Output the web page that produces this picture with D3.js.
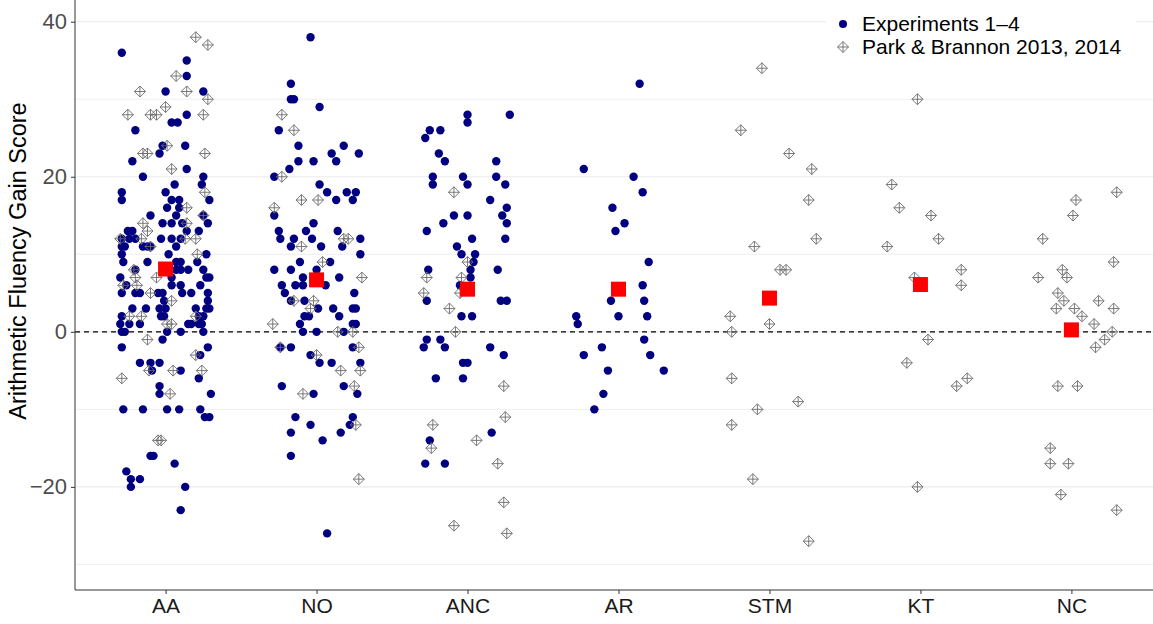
<!DOCTYPE html>
<html>
<head>
<meta charset="utf-8">
<script src="https://cdn.jsdelivr.net/npm/d3@7"></script>
<style>
  body { margin: 0; background: #fff; }
  svg { display: block; font-family: "Liberation Sans", Arial, sans-serif; }
</style>
</head>
<body>
<div id="chart"></div>
<script>
// categories and group means
const categories = ["AA", "NO", "ANC", "AR", "STM", "KT", "NC"];
const means = [8.1, 6.7, 5.5, 5.5, 4.35, 6.1, 0.25];
const yTicks = [-20, 0, 20, 40];
const yMinor = [-30, -10, 10, 30];

// individual scores: [jitter (category units), gain score]
// Experiments 1-4
const expAA = [[-0.29,36],[0.14,35],[0.14,33],[0,31],[0.25,31],[0.14,28],[0.04,27],[0.08,27],[-0.2,26],[-0.02,24],[0.13,24],[-0.04,23],[-0.22,22],[0.14,21],[-0.15,20],[0.25,20],[0.06,19],[0.24,19],[-0.29,18],[0,18],[-0.29,17],[0.04,17],[0.09,17],[0.29,17],[0.01,16],[0.09,16],[-0.1,15],[0.07,15],[0.25,15],[-0.02,14],[0.04,14],[0.11,14],[0.28,14],[-0.25,13],[-0.22,13],[0.14,13],[0.22,13],[-0.29,12],[-0.24,12],[-0.2,12],[-0.03,12],[0.04,12],[0.1,12],[-0.29,11],[-0.27,11],[-0.15,11],[-0.12,11],[-0.1,11],[0.07,11],[0.02,10],[-0.29,10],[0.27,10],[-0.28,9],[-0.12,9],[0.07,9],[0.1,9],[0.21,9],[-0.2,8],[0.07,8],[0.1,8],[0.15,8],[0.25,8],[-0.3,7],[0.04,7],[0.27,7],[0.29,7],[-0.26,6],[0.04,6],[0.1,6],[0.23,6],[-0.29,5],[-0.2,5],[-0.17,5],[-0.05,5],[-0.02,5],[0.11,5],[0.17,5],[0.28,5],[-0.01,4],[0.28,4],[-0.22,3],[-0.13,3],[-0.04,3],[0,3],[0.2,3],[0.27,3],[0.29,3],[-0.29,2],[-0.03,2],[-0.01,2],[0.22,2],[0.25,2],[-0.3,1],[-0.24,1],[-0.17,1],[0.15,1],[0.17,1],[0.22,1],[0.24,1],[-0.29,0],[-0.27,0],[0.01,0],[0.1,0],[0.25,0],[-0.02,-1],[-0.29,-2],[0.28,-2],[0.23,-3],[-0.17,-4],[-0.1,-4],[-0.04,-4],[-0.09,-5],[0.1,-5],[0.22,-6],[-0.04,-7],[-0.04,-8],[0.3,-8],[-0.28,-10],[-0.15,-10],[0.01,-10],[0.09,-10],[0.23,-10],[0.26,-11],[0.29,-11],[-0.1,-16],[-0.08,-16],[0.06,-17],[-0.26,-18],[-0.23,-19],[-0.17,-19],[-0.23,-20],[0.13,-20],[0.1,-23]];
const expNO = [[-0.04,38],[-0.17,32],[-0.17,30],[-0.15,30],[0.02,29],[-0.25,26],[-0.12,24],[0.18,24],[0.1,23],[0.28,23],[-0.12,22],[-0.02,22],[0.13,22],[-0.18,21],[-0.28,20],[0.02,19],[0.07,18],[0.2,18],[0.26,18],[0.13,17],[0.24,17],[-0.28,15],[-0.02,14],[-0.25,13],[-0.07,13],[0.14,13],[-0.24,12],[-0.15,12],[-0.03,12],[0.29,12],[-0.17,11],[0.03,11],[0.17,11],[0.29,10],[-0.11,9],[0.09,9],[-0.28,8],[-0.17,8],[0,8],[-0.09,7],[0.15,7],[-0.23,6],[-0.14,6],[-0.09,6],[0.06,6],[-0.21,5],[0.25,5],[-0.17,4],[-0.08,4],[0.24,3],[0.26,3],[0.01,3],[0.11,3],[0.15,2],[-0.08,2],[-0.05,2],[-0.11,1],[0.24,1],[0.26,1],[-0.09,0],[0,0],[0.18,0],[-0.24,-2],[-0.17,-2],[0.24,-2],[-0.04,-3],[0.02,-4],[0.1,-4],[0.29,-4],[-0.23,-7],[0.18,-7],[-0.02,-8],[0.27,-8],[-0.14,-11],[0.24,-11],[-0.04,-12],[0.22,-12],[-0.17,-13],[0.16,-13],[0.04,-14],[-0.17,-16],[0.07,-26]];
const expANC = [[0,28],[0,27],[0.28,28],[-0.25,26],[-0.18,26],[-0.28,25],[-0.19,23],[-0.15,22],[0.19,22],[-0.23,20],[-0.03,20],[0.19,20],[-0.23,19],[0,19],[0.25,19],[0.15,17],[0.26,16],[-0.09,15],[0,15],[0.23,15],[-0.16,14],[0.26,14],[-0.27,13],[0.03,12],[0.25,12],[-0.07,11],[-0.04,10],[0.05,10],[0.04,9],[-0.26,8],[0.02,8],[0.2,8],[0.02,7],[-0.05,6],[-0.27,4],[0.22,4],[0.26,4],[-0.04,2],[0.03,2],[-0.27,-1],[-0.18,-1],[-0.29,-2],[-0.15,-2],[0.15,-2],[0.24,-3],[-0.03,-4],[0,-4],[-0.21,-6],[-0.03,-6],[0.16,-13],[-0.25,-14],[-0.28,-17],[-0.15,-17]];
const expAR = [[0.14,32],[-0.23,21],[0.1,20],[0.16,18],[-0.04,16],[0.04,14],[-0.02,13],[0.2,9],[0.16,6],[-0.05,4],[0.17,4],[-0.28,2],[0,2],[0.19,2],[-0.27,1],[0.17,-1],[-0.11,-2],[-0.23,-3],[0.21,-3],[-0.07,-5],[0.3,-5],[-0.1,-8],[-0.16,-10]];

// Park & Brannon 2013, 2014
const pbAA = [[0.2,38],[0.28,37],[0.07,33],[-0.17,31],[0.14,31],[0,29],[0.28,30],[-0.25,28],[-0.1,28],[-0.06,28],[0.25,28],[0.01,24],[-0.15,23],[-0.12,23],[0.26,23],[0.04,21],[0.26,18],[0.14,16],[-0.15,14],[-0.12,13],[0.14,14],[0.25,15],[-0.3,12],[-0.16,12],[0.13,12],[0.2,12],[-0.1,11],[0.21,10],[-0.21,8],[-0.06,7],[-0.2,7],[-0.19,6],[-0.28,6],[-0.1,5],[0.04,4],[-0.24,2],[-0.16,2],[0.2,2],[0.01,1],[0.04,1],[-0.12,-1],[0.2,-3],[-0.29,-6],[-0.11,-5],[0.05,-5],[0.24,-5],[0.03,-8],[-0.05,-14],[-0.03,-14]];
const pbNO = [[-0.23,28],[-0.15,26],[-0.23,20],[-0.1,17],[0.01,17],[-0.28,16],[0.18,12],[0.21,12],[-0.1,11],[0.04,9],[0.3,7],[-0.15,4],[-0.02,4],[-0.04,3],[-0.29,1],[0.14,0],[0.24,0],[-0.24,-2],[0.28,-2],[0,-3],[0.16,-5],[0.29,-5],[0.25,-7],[-0.09,-8],[0.26,-12],[0.28,-19]];
const pbANC = [[-0.09,18],[0,9],[-0.27,7],[-0.04,7],[-0.29,5],[-0.05,5],[-0.12,3],[-0.08,0],[0.24,-7],[0.25,-11],[-0.23,-12],[0.06,-14],[-0.24,-15],[0.2,-17],[0.24,-22],[-0.09,-25],[0.26,-26]];
const pbSTM = [[-0.05,34],[-0.19,26],[0.13,23],[0.28,21],[0.26,17],[-0.1,11],[0.31,12],[0.07,8],[0.11,8],[-0.26,2],[0,1],[-0.25,0],[-0.25,-6],[0.19,-9],[-0.08,-10],[-0.25,-12],[-0.11,-19],[0.26,-27]];
const pbKT = [[-0.02,30],[-0.19,19],[-0.14,16],[0.07,15],[0.12,12],[-0.22,11],[0.27,8],[-0.04,7],[0.27,6],[0.05,-1],[-0.09,-4],[0.31,-6],[0.24,-7],[-0.02,-20]];
const pbNC = [[0.3,18],[0.03,17],[0.01,15],[-0.19,12],[0.28,9],[-0.06,8],[-0.03,7],[-0.22,7],[-0.09,5],[-0.05,4],[0.18,4],[-0.1,3],[0.02,3],[0.28,3],[0.07,2],[0.15,1],[0.27,0],[0.22,-1],[0.16,-2],[-0.09,-7],[0.04,-7],[-0.14,-15],[-0.14,-17],[-0.02,-17],[-0.07,-21],[0.3,-23]];

const expByCat = { AA: expAA, NO: expNO, ANC: expANC, AR: expAR };
const pbByCat = { AA: pbAA, NO: pbNO, ANC: pbANC, STM: pbSTM, KT: pbKT, NC: pbNC };

const toRows = (byCat) =>
  Object.entries(byCat).flatMap(([cat, pts]) =>
    pts.map(([j, v]) => ({ cat, j, v }))
  );
const expRows = toRows(expByCat);
const pbRows = toRows(pbByCat);

const width = 1153;
const height = 624;
const margin = { top: 0, right: -9, bottom: 34, left: 75 };
const innerW = width - margin.left - margin.right;
const innerH = height - margin.top - margin.bottom;

const svg = d3
  .select("#chart")
  .append("svg")
  .attr("width", width)
  .attr("height", height);

const g = svg
  .append("g")
  .attr("transform", `translate(${margin.left},${margin.top})`);

const x = d3.scalePoint().domain(categories).range([0, innerW]).padding(0.6);
const step = x.step();
const y = d3.scaleLinear().domain([-33.3, 42.8]).range([innerH, 0]);

// gridlines
g.append("g")
  .selectAll("line")
  .data(yMinor.concat(yTicks))
  .join("line")
  .attr("x1", 0)
  .attr("x2", innerW)
  .attr("y1", (d) => y(d))
  .attr("y2", (d) => y(d))
  .attr("stroke", "#ebebeb")
  .attr("stroke-width", (d) => (yTicks.includes(d) ? 1.1 : 0.8));

// zero reference line
g.append("line")
  .attr("x1", 0)
  .attr("x2", innerW)
  .attr("y1", y(0))
  .attr("y2", y(0))
  .attr("stroke", "#000")
  .attr("stroke-width", 1.3)
  .attr("stroke-dasharray", "5,4");

// axes
const yAxis = g
  .append("g")
  .call(d3.axisLeft(y).tickValues(yTicks).tickSize(4).tickPadding(4).tickFormat((d) => (d < 0 ? "\u2212" + Math.abs(d) : d)));
yAxis.select(".domain").attr("stroke", "#333").attr("d", `M0,0V${innerH}`);
yAxis.selectAll(".tick line").attr("stroke", "#333");
yAxis.selectAll(".tick text").attr("fill", "#4d4d4d").style("font-size", "22px");

const xAxis = g
  .append("g")
  .attr("transform", `translate(0,${innerH})`)
  .call(d3.axisBottom(x).tickSize(4).tickPadding(4));
xAxis.select(".domain").attr("stroke", "#333").attr("d", `M0,0H${innerW}`);
xAxis.selectAll(".tick line").attr("stroke", "#333");
xAxis.selectAll(".tick text").attr("fill", "#1a1a1a").style("font-size", "21px");

// y axis title
svg
  .append("text")
  .attr("transform", `translate(26,261) rotate(-90)`)
  .attr("text-anchor", "middle")
  .style("font-size", "23.5px")
  .attr("fill", "#000")
  .text("Arithmetic Fluency Gain Score");

// diamond with a plus inside (R pch 9)
const diamondPath = (s) =>
  `M0,${-s}L${s},0L0,${s}L${-s},0Z M0,${-s}V${s} M${-s},0H${s}`;

// Experiments 1-4 points
g.append("g")
  .selectAll("circle")
  .data(expRows)
  .join("circle")
  .attr("cx", (d) => x(d.cat) + d.j * step)
  .attr("cy", (d) => y(d.v))
  .attr("r", 4.2)
  .attr("fill", "#000080");

// Park & Brannon points
g.append("g")
  .selectAll("path")
  .data(pbRows)
  .join("path")
  .attr("transform", (d) => `translate(${x(d.cat) + d.j * step},${y(d.v)})`)
  .attr("d", diamondPath(5.5))
  .attr("fill", "none")
  .attr("stroke", "#6b6b6b")
  .attr("stroke-width", 0.9);

// means
const sq = 15;
g.append("g")
  .selectAll("rect")
  .data(categories.map((c, i) => ({ cat: c, m: means[i] })))
  .join("rect")
  .attr("x", (d) => x(d.cat) - sq / 2)
  .attr("y", (d) => y(d.m) - sq / 2)
  .attr("width", sq)
  .attr("height", sq)
  .attr("fill", "#ff0000");

// legend
const legend = svg.append("g").attr("transform", "translate(826,8)");
legend.append("rect").attr("width", 310).attr("height", 52).attr("fill", "#fff");
legend.append("circle").attr("cx", 17).attr("cy", 16).attr("r", 4).attr("fill", "#000080");
legend
  .append("path")
  .attr("transform", "translate(17,39)")
  .attr("d", diamondPath(5.5))
  .attr("fill", "none")
  .attr("stroke", "#6b6b6b")
  .attr("stroke-width", 0.9);
legend
  .selectAll("text")
  .data(["Experiments 1\u20134", "Park & Brannon 2013, 2014"])
  .join("text")
  .attr("x", 36)
  .attr("y", (d, i) => 16 + i * 23)
  .attr("dy", "0.35em")
  .style("font-size", "21px")
  .attr("fill", "#000")
  .text((d) => d);
</script>
</body>
</html>
